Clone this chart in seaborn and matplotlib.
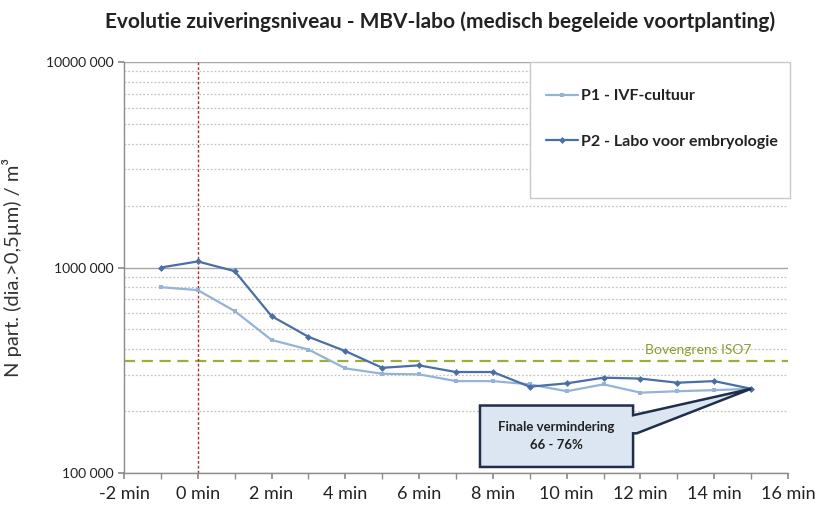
import numpy as np
import pandas as pd
import matplotlib
matplotlib.use("Agg")
import matplotlib.pyplot as plt
import seaborn as sns
from matplotlib.ticker import FixedLocator, LogLocator, NullFormatter
from matplotlib.patches import Polygon, Rectangle

# ---- data ----
minutes = [-1, 0, 1, 2, 3, 4, 5, 6, 7, 8, 9, 10, 11, 12, 13, 14, 15]
p1_values = [802000, 776000, 614000, 444000, 399000, 323000, 304000, 302000, 280000,
             280000, 270000, 250000, 270000, 246000, 250000, 253000, 257000]
p2_values = [1000000, 1070000, 960000, 580000, 460000, 392000, 325000, 334000, 310000,
             310000, 263000, 273000, 291000, 288000, 275000, 280000, 257000]
series_names = ["P1 - IVF-cultuur", "P2 - Labo voor embryologie"]
iso7_limit = 352000
x_ticks = [-2, 0, 2, 4, 6, 8, 10, 12, 14, 16]
x_tick_labels = ["-2 min", "0 min", "2 min", "4 min", "6 min", "8 min",
                 "10 min", "12 min", "14 min", "16 min"]
y_ticks = [100000, 1000000, 10000000]
y_tick_labels = ["100 000", "1000 000", "10000 000"]
title = "Evolutie zuiveringsniveau - MBV-labo (medisch begeleide voortplanting)"
ylabel = "N part. (dia.>0,5\u00b5m) / m\u00b3"
limit_label = "Bovengrens ISO7"
callout_text = "Finale vermindering\n66 - 76%"

df = pd.DataFrame({
    "t": minutes * 2,
    "v": p1_values + p2_values,
    "series": [series_names[0]] * len(minutes) + [series_names[1]] * len(minutes),
})

sns.set_theme(style="white")
plt.rcParams["font.family"] = ["Lato", "DejaVu Sans"]

fig = plt.figure(figsize=(8.2, 5.11), dpi=100)
ax = fig.add_axes([124 / 820, 1 - 473 / 511, (788 - 124) / 820, (473 - 62) / 511])

c1 = "#95b3d7"
c2 = "#4a6fa5"
sns.lineplot(data=df, x="t", y="v", hue="series", style="series",
             palette=[c1, c2], markers=["s", "D"], dashes=False,
             markersize=3.5, linewidth=1.6, markeredgewidth=0, ax=ax, legend=True)

ax.set_yscale("log")
ax.set_ylim(100000, 10000000)
ax.set_xlim(-2, 16)

# grid
ax.yaxis.set_major_locator(FixedLocator(y_ticks))
ax.set_yticklabels(y_tick_labels)
ax.yaxis.set_minor_locator(LogLocator(base=10, subs=np.arange(2, 10)))
ax.yaxis.set_minor_formatter(NullFormatter())
ax.grid(True, which="major", axis="y", color="#a6a6a6", linewidth=1.0, linestyle="-")
ax.grid(True, which="minor", axis="y", color="#c4c4c4", linewidth=0.9, linestyle=(0, (1.5, 1.5)))
ax.set_axisbelow(True)

ax.set_xticks(x_ticks)
ax.set_xticklabels(x_tick_labels)
ax.set_xticks(np.arange(-2, 17, 1), minor=True)

for s in ["top", "right"]:
    ax.spines[s].set_visible(False)
for s in ["left", "bottom"]:
    ax.spines[s].set_color("#8c8c8c")
    ax.spines[s].set_linewidth(1.0)
ax.tick_params(axis="x", which="both", direction="out", length=4, color="#8c8c8c",
               labelsize=13, pad=5, bottom=True, labelcolor="#222222")
ax.tick_params(axis="y", which="major", direction="out", length=4, color="#8c8c8c",
               labelsize=10, left=True, labelcolor="#222222")
ax.tick_params(axis="y", which="minor", length=0)

ax.set_xlabel("")
ax.set_ylabel(ylabel, fontsize=14.5, color="#333333")
ax.yaxis.set_label_coords((22 - 124) / 664, 0.5)

# ISO7 limit and time zero markers
ax.axhline(iso7_limit, color="#9aae3a", linewidth=1.6, linestyle=(0, (5, 3)), zorder=1)
ax.text(15.0, iso7_limit * 1.05, limit_label, color="#86a02c", fontsize=10,
        ha="right", va="bottom")
ax.axvline(0, color="#a83030", linewidth=1.0, linestyle=(0, (2, 1.5)), zorder=1)

# callout
x0, x1 = 7.65, 11.8
ytop, ybot = 213000, 107000
pts = [(x0, ytop), (x1, ytop), (x1, 191000), (minutes[-1], p2_values[-1]),
       (x1 + 0.1, 156000), (x1, 156000), (x1, ybot), (x0, ybot)]
poly = Polygon(pts, closed=True, facecolor="#dce6f2", edgecolor="#1f2f4a",
               linewidth=1.8, zorder=5)
ax.add_patch(poly)
ax.text((x0 + x1) / 2, np.sqrt(ytop * ybot), callout_text, ha="center", va="center",
        fontsize=9.5, fontweight="bold", color="#222222", linespacing=1.6, zorder=6)

# legend (frame drawn separately)
frame = Rectangle(((530 - 124) / 664, (473 - 198) / 411), (790 - 530) / 664, (198 - 62) / 411,
                  transform=ax.transAxes, facecolor="white", edgecolor="#c8c8c8",
                  linewidth=1.0, zorder=7, clip_on=False)
ax.add_patch(frame)
handles, labels = ax.get_legend_handles_labels()
leg = ax.legend(handles, labels, loc="upper left",
                bbox_to_anchor=((546 - 124) / 664, (473 - 89) / 411),
                frameon=False, fontsize=11.5, labelspacing=1.95,
                borderpad=0.0, handlelength=2.0, handletextpad=0.2,
                borderaxespad=0.0)
leg.set_zorder(8)
for t in leg.get_texts():
    t.set_fontweight("bold")
    t.set_color("#222222")

fig.text(0.537, 1 - 22 / 511, title, ha="center", va="center", fontsize=15,
         fontweight="bold", color="#222222")

fig.savefig("out.png", dpi=100, facecolor="white")
